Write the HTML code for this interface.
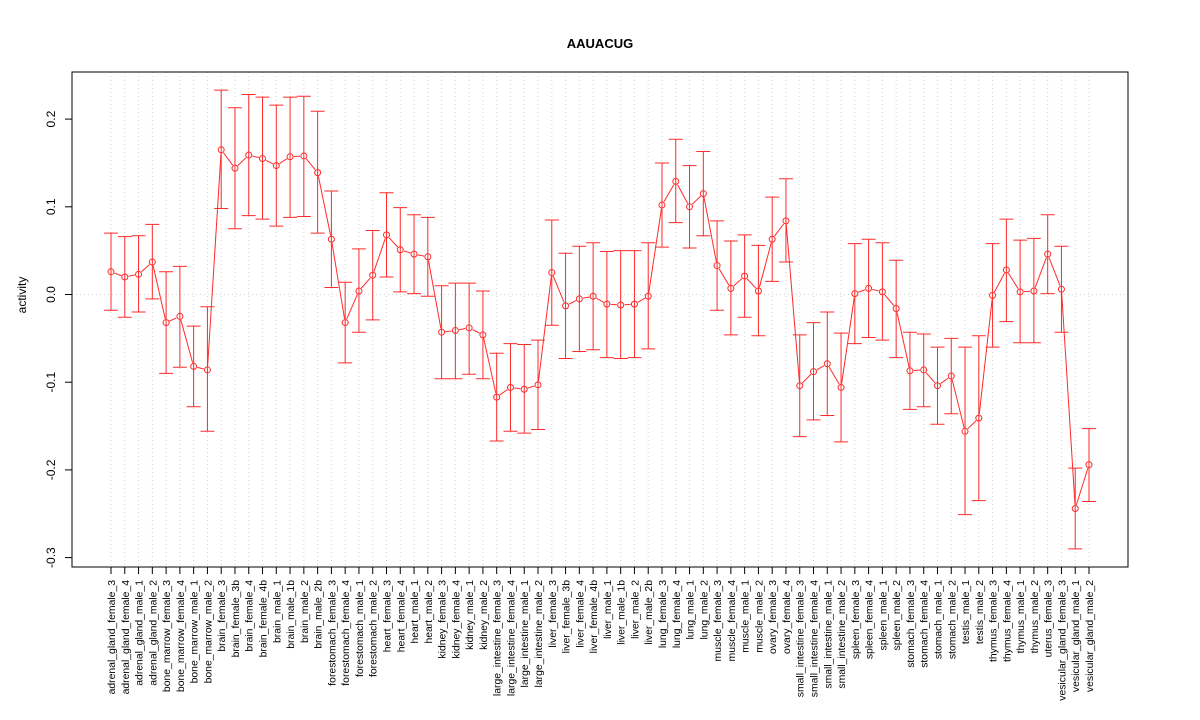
<!DOCTYPE html>
<html><head><meta charset="utf-8"><style>
body{margin:0;background:#fff;}
svg{display:block;font-family:"Liberation Sans",sans-serif;}
</style></head><body>
<svg id="chart" width="1200" height="720" xmlns="http://www.w3.org/2000/svg">
<rect width="1200" height="720" fill="#fff"/>
<text x="600" y="48" text-anchor="middle" font-size="13" font-weight="bold">AAUACUG</text>
<text transform="translate(26,295) rotate(-90)" text-anchor="middle" font-size="12">activity</text>
<g id="grid"></g><g id="marks"></g><g id="axes"></g>
<rect x="72" y="72" width="1056" height="495" fill="none" stroke="#000" stroke-width="1"/>
</svg>
<script>
const categories=["adrenal_gland_female_3","adrenal_gland_female_4","adrenal_gland_male_1","adrenal_gland_male_2","bone_marrow_female_3","bone_marrow_female_4","bone_marrow_male_1","bone_marrow_male_2","brain_female_3","brain_female_3b","brain_female_4","brain_female_4b","brain_male_1","brain_male_1b","brain_male_2","brain_male_2b","forestomach_female_3","forestomach_female_4","forestomach_male_1","forestomach_male_2","heart_female_3","heart_female_4","heart_male_1","heart_male_2","kidney_female_3","kidney_female_4","kidney_male_1","kidney_male_2","large_intestine_female_3","large_intestine_female_4","large_intestine_male_1","large_intestine_male_2","liver_female_3","liver_female_3b","liver_female_4","liver_female_4b","liver_male_1","liver_male_1b","liver_male_2","liver_male_2b","lung_female_3","lung_female_4","lung_male_1","lung_male_2","muscle_female_3","muscle_female_4","muscle_male_1","muscle_male_2","ovary_female_3","ovary_female_4","small_intestine_female_3","small_intestine_female_4","small_intestine_male_1","small_intestine_male_2","spleen_female_3","spleen_female_4","spleen_male_1","spleen_male_2","stomach_female_3","stomach_female_4","stomach_male_1","stomach_male_2","testis_male_1","testis_male_2","thymus_female_3","thymus_female_4","thymus_male_1","thymus_male_2","uterus_female_3","vesicular_gland_female_3","vesicular_gland_male_1","vesicular_gland_male_2"];
const means=[0.026,0.020,0.023,0.037,-0.032,-0.025,-0.082,-0.086,0.165,0.144,0.159,0.155,0.147,0.157,0.158,0.139,0.063,-0.032,0.004,0.022,0.068,0.051,0.046,0.043,-0.043,-0.041,-0.038,-0.046,-0.117,-0.106,-0.108,-0.103,0.025,-0.013,-0.005,-0.002,-0.011,-0.012,-0.011,-0.002,0.102,0.129,0.100,0.115,0.033,0.007,0.021,0.004,0.063,0.084,-0.104,-0.088,-0.079,-0.106,0.001,0.007,0.003,-0.016,-0.087,-0.086,-0.104,-0.093,-0.156,-0.141,-0.001,0.028,0.003,0.004,0.046,0.006,-0.244,-0.194];
const lower=[-0.018,-0.026,-0.020,-0.005,-0.090,-0.083,-0.128,-0.156,0.098,0.075,0.090,0.086,0.078,0.088,0.089,0.070,0.008,-0.078,-0.043,-0.029,0.020,0.003,0.001,-0.002,-0.096,-0.096,-0.091,-0.096,-0.167,-0.156,-0.158,-0.154,-0.035,-0.073,-0.065,-0.063,-0.072,-0.073,-0.072,-0.062,0.054,0.082,0.053,0.067,-0.018,-0.046,-0.026,-0.047,0.015,0.037,-0.162,-0.143,-0.138,-0.168,-0.056,-0.049,-0.052,-0.072,-0.131,-0.128,-0.148,-0.136,-0.251,-0.235,-0.060,-0.031,-0.055,-0.055,0.001,-0.043,-0.290,-0.236];
const upper=[0.070,0.066,0.067,0.080,0.026,0.032,-0.036,-0.014,0.233,0.213,0.228,0.225,0.216,0.225,0.226,0.209,0.118,0.014,0.052,0.073,0.116,0.099,0.091,0.088,0.010,0.013,0.013,0.004,-0.067,-0.056,-0.057,-0.052,0.085,0.047,0.055,0.059,0.049,0.050,0.050,0.059,0.150,0.177,0.147,0.163,0.084,0.061,0.068,0.056,0.111,0.132,-0.046,-0.032,-0.020,-0.044,0.058,0.063,0.059,0.039,-0.043,-0.045,-0.060,-0.050,-0.060,-0.047,0.058,0.086,0.062,0.064,0.091,0.055,-0.198,-0.153];
const yTicks=[-0.3,-0.2,-0.1,0.0,0.1,0.2];
const yTickLabels=["-0.3","-0.2","-0.1","0.0","0.1","0.2"];

const NS="http://www.w3.org/2000/svg";
function X(i){return 111+i*(1089-111)/(categories.length-1);}
function Y(v){return 294.5-v*877;}
function mk(tag,attrs,parent){const e=document.createElementNS(NS,tag);for(const k in attrs)e.setAttribute(k,attrs[k]);parent.appendChild(e);return e;}
const grid=document.getElementById('grid'),marks=document.getElementById('marks'),axes=document.getElementById('axes');
const red="#ff2a2a";
categories.forEach((c,i)=>{
  const g=mk('line',{x1:X(i),x2:X(i),y1:72,y2:567,stroke:'#d3d3d3','stroke-dasharray':'1,3'},grid);
  
  
  const t=mk('line',{x1:X(i),x2:X(i),y1:567,y2:574,stroke:'#000'},axes);
  
  
  const lb=mk('text',{transform:`translate(${X(i)+4},580) rotate(-90)`,'text-anchor':'end','font-size':'10.4'},axes);
  lb.textContent=c;
  
  
});
const zl=mk('line',{x1:72,x2:1128,y1:Y(0),y2:Y(0),stroke:'#d3d3d3','stroke-dasharray':'1,3'},grid);


yTicks.forEach((v,k)=>{
  const t=mk('line',{x1:65,x2:72,y1:Y(v),y2:Y(v),stroke:'#000'},axes);
  
  
  const lb=mk('text',{transform:`translate(55,${Y(v)}) rotate(-90)`,'text-anchor':'middle','font-size':'12'},axes);
  lb.textContent=yTickLabels[k];
  
  
});
for(let i=0;i<means.length-1;i++){
  const x1=X(i),y1=Y(means[i]),x2=X(i+1),y2=Y(means[i+1]);
  const dx=x2-x1,dy=y2-y1,L=Math.hypot(dx,dy);
  if(L<8)continue;
  const ux=dx/L*3.8,uy=dy/L*3.8;
  const s=mk('line',{x1:x1+ux,y1:y1+uy,x2:x2-ux,y2:y2-uy,stroke:red,'stroke-width':1},marks);
  
  
}
means.forEach((m,i)=>{
  const x=X(i);
  const e=mk('path',{d:`M${x},${Y(lower[i])}V${Y(upper[i])}M${x-7},${Y(lower[i])}H${x+7}M${x-7},${Y(upper[i])}H${x+7}`,stroke:red,'stroke-width':1,fill:'none'},marks);
  
  
  const c=mk('circle',{cx:x,cy:Y(m),r:3,fill:'none',stroke:red,'stroke-width':1},marks);
  
  
});
</script>
</body></html>
